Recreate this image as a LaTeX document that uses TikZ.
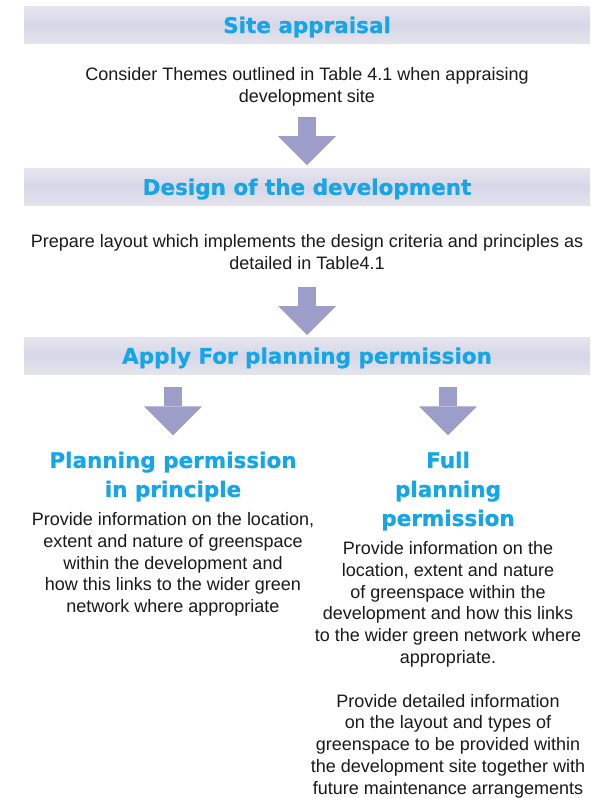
\documentclass[tikz,border=0pt]{standalone}
\usepackage{fontspec}
\setmainfont{Liberation Sans}
\newfontfamily\headfont{DejaVu Sans}[BoldFeatures={FakeBold=0.8}]
\usepackage{xcolor}
\definecolor{bandtop}{HTML}{E6E5EF}
\definecolor{bandmid}{HTML}{D7D6E8}
\definecolor{bandbot}{HTML}{E4E4EB}
\definecolor{headblue}{HTML}{16A6E8}
\definecolor{arrowfill}{HTML}{9C9DC8}
\definecolor{bodytext}{HTML}{1A1A1A}
\usetikzlibrary{arrows.meta, positioning}

\begin{document}
\begin{tikzpicture}[
        x=1pt, y=-1pt,
        band/.style={
            rectangle,
            top color=bandtop,
            bottom color=bandbot,
            middle color=bandmid,
            minimum width=566pt,
            minimum height=37pt,
            inner sep=0pt,
            text height=16pt,
            text depth=0pt,
            font=\headfont\bfseries\fontsize{21.5}{29}\selectfont,
            text=headblue
        },
        head_text/.style={
            align=center,
            inner sep=0pt,
            font=\headfont\bfseries\fontsize{21.5}{29}\selectfont,
            text=headblue
        },
        body_text/.style={
            align=center,
            inner sep=0pt,
            font=\fontsize{18}{21.8}\selectfont,
            text=bodytext
        },
        block_arrow/.style={
            -{Triangle[width=58pt, length=29pt, line width=0pt]},
            draw=arrowfill,
            line width=18pt
        }
    ]

    \fill[white] (0,0) rectangle (590,798);
    \useasboundingbox (0,0) rectangle (590,798);

    % Site appraisal
    \node[band] (site) at (307,25) {Site appraisal};
    \node[body_text, below=23.5pt of site] (consider) {Consider Themes outlined in Table 4.1 when appraising\\development site};

    % Design of the development
    \node[band, below=62pt of consider] (design) {Design of the development};
    \node[body_text, below=29pt of design] (prepare) {Prepare layout which implements the design criteria and principles as\\detailed in Table4.1};
    \draw[block_arrow] ([yshift=-11pt]consider.south) -- ([yshift=3pt]design.north);

    % Planning permission
    \node[band, below=67pt of prepare] (apply) {Apply For planning permission};
    \draw[block_arrow] ([yshift=-17pt]prepare.south) -- ([yshift=2pt]apply.north);

    % Two routes
    \node[head_text, below=77pt of apply, xshift=-134pt] (pip) {Planning permission\\in principle};
    \node[body_text, below=10.6pt of pip] (pip_info) {Provide information on the location,\\extent and nature of greenspace\\within the development and\\how this links to the wider green\\network where appropriate};

    \node[head_text, below=77pt of apply, xshift=141pt] (full) {Full\\planning\\permission};
    \node[body_text, below=10.6pt of full] (full_info) {Provide information on the\\location, extent and nature\\of greenspace within the\\development and how this links\\to the wider green network where\\appropriate.\\[21.8pt]Provide detailed information\\on the layout and types of\\greenspace to be provided within\\the development site together with\\future maintenance arrangements};

    \path (apply.south -| pip.north) coordinate (pip_in);
    \path (apply.south -| full.north) coordinate (full_in);
    \draw[block_arrow] ([yshift=-13pt]pip_in) -- ([yshift=16pt]pip.north);
    \draw[block_arrow] ([yshift=-13pt]full_in) -- ([yshift=16pt]full.north);

\end{tikzpicture}
\end{document}
